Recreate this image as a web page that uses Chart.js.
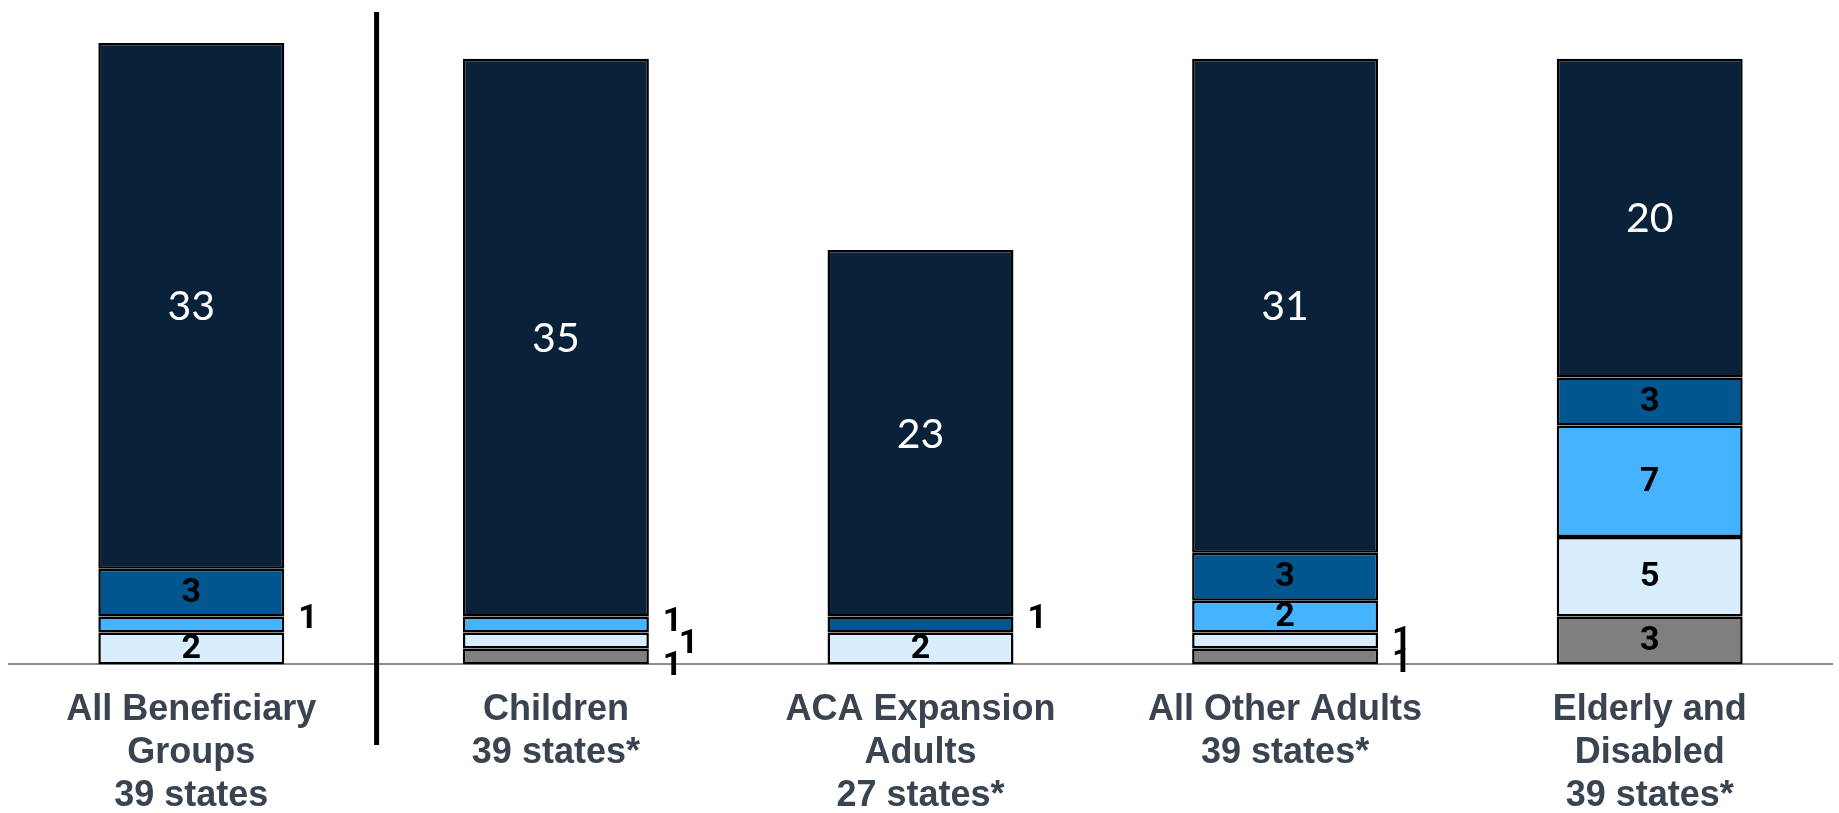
<!DOCTYPE html>
<html>
<head>
<meta charset="utf-8">
<script src="https://cdn.jsdelivr.net/npm/chart.js@4.4.1/dist/chart.umd.min.js"></script>
<style>
    html, body { margin: 0; padding: 0; background: #ffffff; }
    #chart { display: block; }
</style>
</head>
<body>
<canvas id="chart" width="1839" height="813"></canvas>
<script>
// --- DATOS ---
const categories = [
    ['All Beneficiary', 'Groups', '39 states'],
    ['Children', '39 states*'],
    ['ACA Expansion', 'Adults', '27 states*'],
    ['All Other Adults', '39 states*'],
    ['Elderly and', 'Disabled', '39 states*']
];
// series de abajo hacia arriba
const seriesGray      = [0, 1, 0, 1, 3];
const seriesPale      = [2, 1, 2, 1, 5];
const seriesLight     = [1, 1, 0, 2, 7];
const seriesMedium    = [3, 0, 1, 3, 3];
const seriesNavy      = [33, 35, 23, 31, 20];
const yMax = 40;

// --- ESTILOS ---
const colors = ['#7f7f7f', '#d9eefc', '#45b3ff', '#02568f', '#0a2239'];
const allSeries = [seriesGray, seriesPale, seriesLight, seriesMedium, seriesNavy];
const smallFont = 'bold 34px Roboto';

const datasets = allSeries.map((values, i) => ({
    label: 'serie' + i,
    data: values.map(v => v === 0 ? null : v),
    backgroundColor: colors[i],
    borderColor: '#000000',
    borderWidth: 2.5,
    borderSkipped: false,
    barPercentage: 0.85,
    categoryPercentage: 0.6
}));

/**
 * Dibuja los valores de cada segmento (dentro, o a la derecha si vale 1).
 */
const valueLabels = {
    id: 'valueLabels',
    afterDatasetsDraw(chart) {
        const ctx = chart.ctx;
        ctx.save();
        ctx.textBaseline = 'middle';
        for (let j = 0; j < categories.length; j++) {
            let outside = [];
            chart.data.datasets.forEach((ds, i) => {
                const v = ds.data[j];
                if (!v) return;
                const el = chart.getDatasetMeta(i).data[j];
                const cy = (el.y + el.base) / 2;
                if (v === 1) {
                    outside.push({ x: el.x + el.width / 2, y: cy });
                    return;
                }
                ctx.textAlign = 'center';
                if (i === 4) {
                    ctx.fillStyle = '#ffffff';
                    ctx.font = '41px Lato';
                } else {
                    ctx.fillStyle = '#000000';
                    ctx.font = smallFont;
                }
                ctx.fillText(String(v), el.x, cy + 1);
            });
            if (outside.length) {
                // separar etiquetas pequeñas que se tocan
                const mid = outside.reduce((s, o) => s + o.y, 0) / outside.length;
                const gap = 22;
                ctx.textAlign = 'left';
                ctx.fillStyle = '#000000';
                ctx.font = smallFont;
                outside.forEach((o, k) => {
                    const y = outside.length > 1 ? mid + (k - (outside.length - 1) / 2) * -gap + 4 : o.y - 5;
                    const dx = (outside.length > 2 && k === 1) ? 16 : 0;
                    ctx.fillText('1', o.x + 14 + dx, y);
                });
            }
        }
        ctx.restore();
    }
};

/**
 * Línea vertical que separa el total de los grupos.
 */
const separator = {
    id: 'separator',
    afterDraw(chart) {
        const xs = chart.scales.x;
        const x = (xs.getPixelForValue(0) + xs.getPixelForValue(1)) / 2 + 3;
        const ctx = chart.ctx;
        ctx.save();
        ctx.strokeStyle = '#000000';
        ctx.lineWidth = 5;
        ctx.beginPath();
        ctx.moveTo(x, 12);
        ctx.lineTo(x, 745);
        ctx.stroke();
        ctx.restore();
    }
};

// --- GRÁFICO ---
new Chart(document.getElementById('chart').getContext('2d'), {
    type: 'bar',
    data: {
        labels: categories,
        datasets: datasets
    },
    options: {
        responsive: false,
        animation: false,
        layout: {
            padding: { top: 27, left: 9, right: 7, bottom: -29 }
        },
        plugins: {
            legend: { display: false },
            tooltip: { enabled: false }
        },
        scales: {
            x: {
                stacked: true,
                z: 1,
                grid: { display: false, drawTicks: false },
                border: { display: true, color: '#8c8c8c', width: 2 },
                ticks: {
                    padding: 24,
                    color: '#3a4350',
                    font: { family: 'Liberation Sans', size: 36, weight: 'bold', lineHeight: 1.2 }
                }
            },
            y: {
                stacked: true,
                display: false,
                min: 0,
                max: yMax
            }
        }
    },
    plugins: [valueLabels, separator]
});
</script>
</body>
</html>
